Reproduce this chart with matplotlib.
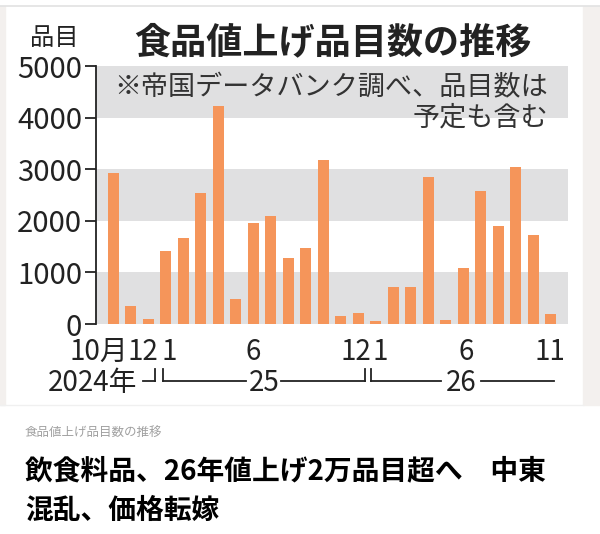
"""Monthly count of food items with price increases (Teikoku Databank)."""

import matplotlib

matplotlib.use("Agg")
import matplotlib.pyplot as plt
import matplotlib.transforms as mtransforms
from matplotlib.lines import Line2D
from matplotlib.patches import Rectangle
import numpy as np


# 2024-10 .. 2026-11, one value per month
months = (["2024-%02d" % m for m in (10, 11, 12)]
          + ["2025-%02d" % m for m in range(1, 13)]
          + ["2026-%02d" % m for m in range(1, 12)])
counts = [2930, 350, 100,
          1420, 1660, 2540, 4230, 480, 1950, 2100, 1270, 1470, 3170, 150, 220,
          60, 720, 720, 2840, 80, 1080, 2570, 1900, 3040, 1720, 200]

# (month index, label, small shift in bar units)
month_labels = [(0, "10月", -0.85), (2, "12", -0.33), (3, "1", 0.2),
                (8, "6", 0.0), (14, "12", -0.16), (15, "1", 0.25),
                (20, "6", 0.15), (25, "11", -0.05)]
yticks = [0, 1000, 2000, 3000, 4000, 5000]

TITLE = "食品値上げ品目数の推移"
UNIT = "品目"
NOTE1 = "※帝国データバンク調べ、品目数は"
NOTE2 = "予定も含む"
CAPTION = "食品値上げ品目数の推移"
HEADLINE1 = "飲食料品、26年値上げ2万品目超へ　中東"
HEADLINE2 = "混乱、価格転嫁"

BAR = "#F5955A"
BAND = "#E0E0E1"
INK = "#222222"
NARROW = ["Liberation Sans Narrow", "Noto Sans CJK JP", "DejaVu Sans"]
JP = ["Noto Sans CJK JP", "DejaVu Sans"]

W, H = 600, 534
fig = plt.figure(figsize=(W / 100, H / 100), dpi=100)
fig.patch.set_facecolor("white")


def px(x0, y0, x1, y1):
    # pixel box (top-left origin) -> figure fraction rect
    return [x0 / W, 1 - y1 / H, (x1 - x0) / W, (y1 - y0) / H]


# outer frame of the graphic panel
for rect in (px(0, 6, 5, 405), px(583, 6, 600, 405)):
    fig.patches.append(Rectangle((rect[0], rect[1]), rect[2], rect[3],
                                 transform=fig.transFigure, color="#F3F0EE", zorder=0))
fig.add_artist(Line2D([0, 1], [1 - 6 / H] * 2, transform=fig.transFigure,
                      color="#E2E2E2", lw=1.2))
fig.add_artist(Line2D([0, 583 / W], [1 - 405 / H] * 2, transform=fig.transFigure,
                      color="#F0F0F0", lw=1.0))

ax = fig.add_axes(px(96, 66, 568, 324))
x = np.arange(len(counts))
for lo in (0, 2000, 4000):
    ax.axhspan(lo, lo + 1000, color=BAND, lw=0, zorder=0)
ax.bar(x, counts, width=0.63, color=BAR, zorder=2)

ax.set_xlim(-1, 26)
ax.set_ylim(0, 5000)
ax.set_xticks([])
ax.set_yticks(yticks)
ax.set_yticklabels([str(v) for v in yticks], family=NARROW, fontsize=21, color=INK)
ax.tick_params(axis="y", length=8, width=1.3, color=INK, pad=2)
for side in ("top", "right", "bottom"):
    ax.spines[side].set_visible(False)
ax.spines["left"].set_color(INK)
ax.spines["left"].set_linewidth(1.3)
ax.set_facecolor("white")

# month labels and year brackets under the bars
tr = mtransforms.blended_transform_factory(ax.transData, fig.transFigure)
y_month = 1 - 352 / H
for idx, lab, shift in month_labels:
    ax.text(idx + shift, y_month, lab, transform=tr, ha="center", va="center",
            family=NARROW, fontsize=20, color=INK)

y_br = 1 - 381 / H
y_top = 1 - 369 / H
y_year = 1 - 383 / H
ax.text(1.35, y_year, "2024年", transform=tr, ha="right", va="center",
        family=NARROW, fontsize=20, color=INK)
segments = [
    ([1.69, 2.37], [y_br, y_br]), ([2.37, 2.37], [y_br, y_top]),
    ([2.85, 2.85], [y_top, y_br]), ([2.85, 7.6], [y_br, y_br]),
    ([9.6, 14.37], [y_br, y_br]), ([14.37, 14.37], [y_br, y_top]),
    ([14.71, 14.71], [y_top, y_br]), ([14.71, 18.75], [y_br, y_br]),
    ([21.05, 25.2], [y_br, y_br]),
]
for xs, ys in segments:
    ax.add_line(Line2D(xs, ys, transform=tr, color=INK, lw=1.3, clip_on=False))
ax.text(8.6, y_year, "25", transform=tr, ha="center", va="center",
        family=NARROW, fontsize=20, color=INK)
ax.text(19.9, y_year, "26", transform=tr, ha="center", va="center",
        family=NARROW, fontsize=20, color=INK)

# titles and notes
fig.text(333 / W, 1 - 43 / H, TITLE, ha="center", va="center",
         family=JP, fontsize=26, weight="bold", color=INK)
fig.text(54 / W, 1 - 38 / H, UNIT, ha="center", va="center",
         family=JP, fontsize=17.5, color=INK)
fig.text(548 / W, 1 - 88 / H, NOTE1, ha="right", va="center",
         family=JP, fontsize=19.5, color="#333333")
fig.text(548 / W, 1 - 118 / H, NOTE2, ha="right", va="center",
         family=JP, fontsize=19.5, color="#333333")

# caption block below the graphic
fig.text(25 / W, 1 - 432 / H, CAPTION, ha="left", va="center",
         family=JP, fontsize=9, color="#A0A0A0")
fig.text(25 / W, 1 - 471 / H, HEADLINE1, ha="left", va="center",
         family=JP, fontsize=20, weight="bold", color="black")
fig.text(25 / W, 1 - 511 / H, HEADLINE2, ha="left", va="center",
         family=JP, fontsize=20, weight="bold", color="black")

fig.savefig("out.png", dpi=100, facecolor="white")
plt.close(fig)
